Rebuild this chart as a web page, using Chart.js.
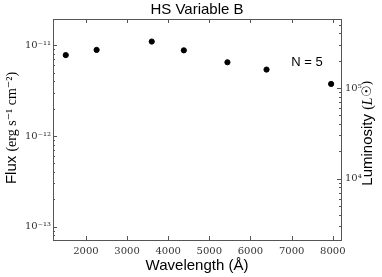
<!DOCTYPE html>
<html>
<head>
<meta charset="utf-8">
<script src="https://cdn.jsdelivr.net/npm/chart.js@4/dist/chart.umd.min.js"></script>
<style>
html,body{margin:0;padding:0;background:#fff;}
#wrap{width:382px;height:277px;}
</style>
</head>
<body>
<div id="wrap"><canvas id="c" width="382" height="277"></canvas></div>
<script>
// ---- data ----
const wavelengths = [1510, 2260, 3600, 4380, 5440, 6390, 7960];
const fluxValues = [7.8e-12, 8.9e-12, 1.1e-11, 8.8e-12, 6.5e-12, 5.4e-12, 3.75e-12];
const wavelengthTicks = [2000, 3000, 4000, 5000, 6000, 7000, 8000];
const fluxTicks = [1e-13, 1e-12, 1e-11];
const lumTicks = [1e4, 1e5];
const titleText = 'HS Variable B';
const xTitle = 'Wavelength (Å)';
const annotation = 'N = 5';

const X_MIN = 1200, X_MAX = 8200;
const FLUX_MIN = 7.13e-14, FLUX_MAX = 1.95e-11;
const LUM_MIN = 2105, LUM_MAX = 575000;

const SUP = {'0':'⁰','1':'¹','2':'²','3':'³','4':'⁴','5':'⁵','6':'⁶','7':'⁷','8':'⁸','9':'⁹','-':'⁻'};
function powLabel(v){
  const e = Math.round(Math.log10(v));
  return '10' + String(e).split('').map(c=>SUP[c]).join('');
}

const tickFont = {family:"'DejaVu Serif', 'Liberation Serif', serif", size: 10};
const tickColor = '#333';
const frameColor = '#555';

const decor = {
  id:'decor',
  afterDraw(chart){
    const ctx = chart.ctx;
    const a = chart.chartArea;
    const sx = chart.scales.x, sy = chart.scales.y, sy2 = chart.scales.y2;
    ctx.save();
    ctx.strokeStyle = frameColor;
    ctx.lineWidth = 1;
    ctx.strokeRect(Math.round(a.left)+0.5, Math.round(a.top)+0.5, Math.round(a.right-a.left), Math.round(a.bottom-a.top));
    ctx.beginPath();
    wavelengthTicks.forEach(v=>{
      const px = Math.round(sx.getPixelForValue(v))+0.5;
      ctx.moveTo(px, a.bottom); ctx.lineTo(px, a.bottom-4);
      ctx.moveTo(px, a.top); ctx.lineTo(px, a.top+4);
    });
    function logTicks(scale, x, dir){
      const lo = Math.floor(Math.log10(scale.min)), hi = Math.ceil(Math.log10(scale.max));
      for(let e=lo;e<=hi;e++){
        for(let m=1;m<10;m++){
          const v = m*Math.pow(10,e);
          if(v<scale.min||v>scale.max) continue;
          const py = Math.round(scale.getPixelForValue(v))+0.5;
          const len = m===1?4:2;
          ctx.moveTo(x, py); ctx.lineTo(x+dir*len, py);
        }
      }
    }
    logTicks(sy, a.left, 1);
    logTicks(sy2, a.right, -1);
    ctx.stroke();

    // right-axis tick labels, placed through the y2 scale
    ctx.fillStyle = tickColor;
    ctx.font = "10px 'DejaVu Serif', 'Liberation Serif', serif";
    ctx.textAlign = 'left'; ctx.textBaseline = 'middle';
    lumTicks.forEach(v=>{
      ctx.fillText(powLabel(v), a.right + 4, sy2.getPixelForValue(v));
    });

    ctx.fillStyle = '#000';
    ctx.font = "15px 'Liberation Sans', Arial, sans-serif";
    ctx.textAlign = 'center'; ctx.textBaseline = 'middle';
    ctx.fillText(titleText, (a.left+a.right)/2, 10);
    ctx.font = "13px 'Liberation Sans', Arial, sans-serif";
    ctx.fillText(annotation, 307, 62);
    ctx.font = "15px 'Liberation Sans', Arial, sans-serif";
    ctx.fillText(xTitle, (a.left+a.right)/2, 266);

    function mixedVertical(parts, cx, cy){
      let total = 0;
      parts.forEach(p=>{ctx.font = p.font; p.w = ctx.measureText(p.t).width; total += p.w;});
      ctx.save();
      ctx.translate(cx, cy);
      ctx.rotate(-Math.PI/2);
      ctx.textAlign = 'left'; ctx.textBaseline = 'middle';
      let x = -total/2;
      parts.forEach(p=>{ctx.font = p.font; ctx.fillText(p.t, x, 0); x += p.w;});
      ctx.restore();
    }
    mixedVertical([
      {t:'Flux ', font:"15px 'Liberation Sans', Arial, sans-serif"},
      {t:'(erg s⁻¹ cm⁻²)', font:"14px 'Liberation Serif', 'DejaVu Serif', serif"}
    ], 12, 128);
    mixedVertical([
      {t:'Luminosity ', font:"15px 'Liberation Sans', Arial, sans-serif"},
      {t:'(', font:"14px 'Liberation Serif', 'DejaVu Serif', serif"},
      {t:'L', font:"italic 14px 'Liberation Serif', 'DejaVu Serif', serif"},
      {t:'☉)', font:"13px 'DejaVu Serif', serif"}
    ], 368, 133);
    ctx.restore();
  }
};

function fixTicks(ticks){
  return function(s){ s.ticks = ticks.map(v=>({value:v})); };
}

new Chart(document.getElementById('c'), {
  type:'scatter',
  data:{
    datasets:[{
      data: wavelengths.map((w,i)=>({x:w, y:fluxValues[i]})),
      backgroundColor:'#000',
      borderColor:'#000',
      pointRadius:2.6,
      pointHoverRadius:2.6,
      yAxisID:'y'
    }]
  },
  options:{
    responsive:false,
    animation:false,
    devicePixelRatio:1,
    layout:{padding:{top:19, left:0, right:0, bottom:0}},
    plugins:{legend:{display:false}, title:{display:false}, tooltip:{enabled:false}},
    scales:{
      x:{
        type:'linear', position:'bottom', min:X_MIN, max:X_MAX,
        grid:{display:false, drawTicks:false}, border:{display:false},
        afterBuildTicks: fixTicks(wavelengthTicks),
        afterFit(s){ s.height = 37; },
        ticks:{font:tickFont, color:tickColor, padding:5, maxRotation:0, autoSkip:false, callback:(v)=>String(v)}
      },
      y:{
        type:'logarithmic', position:'left', min:FLUX_MIN, max:FLUX_MAX,
        grid:{display:false, drawTicks:false}, border:{display:false},
        afterBuildTicks: fixTicks(fluxTicks),
        afterFit(s){ s.width = 53; },
        ticks:{font:tickFont, color:tickColor, padding:2, autoSkip:false, callback:(v)=>powLabel(v)}
      },
      y2:{
        type:'logarithmic', position:'right', min:LUM_MIN, max:LUM_MAX,
        grid:{display:false}, border:{display:false},
        afterBuildTicks: fixTicks(lumTicks),
        afterFit(s){ s.width = 41; },
        ticks:{display:false}
      }
    }
  },
  plugins:[decor]
});
</script>
</body>
</html>
